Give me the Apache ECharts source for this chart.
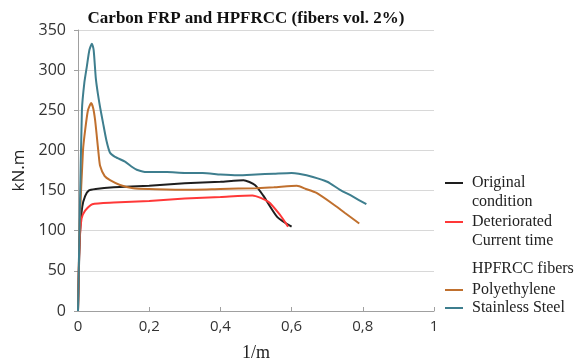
<!DOCTYPE html>
<html><head><meta charset="utf-8">
<script src="https://cdn.jsdelivr.net/npm/echarts@6/dist/echarts.min.js"></script>
<style>html,body{margin:0;padding:0;background:#fff}#c{width:582px;height:364px}</style>
</head><body><div id="c"></div>
<script>
const xTicks = [0, 0.2, 0.4, 0.6, 0.8, 1];
const yTicks = [0, 50, 100, 150, 200, 250, 300, 350];
const seriesNames = ['Original condition', 'Deteriorated Current time', 'Polyethylene', 'Stainless Steel'];
const legendLabels = ['Original\ncondition', 'Deteriorated\nCurrent time', 'Polyethylene', 'Stainless Steel'];
const legendHeader = 'HPFRCC fibers';
const original = [[0,0],[0.003,60],[0.006,100],[0.012,130],[0.02,143],[0.03,150],[0.05,152],[0.1,154],[0.2,156],[0.3,159],[0.4,161],[0.465,163],[0.497,157],[0.52,144],[0.56,117],[0.60,105]];
const deteriorated = [[0,0],[0.004,80],[0.01,115],[0.02,125],[0.04,133],[0.1,135],[0.2,137],[0.3,140],[0.4,142],[0.49,144],[0.535,136],[0.567,120],[0.59,105]];
const polyethylene = [[0,0],[0.005,110],[0.014,200],[0.02,225],[0.028,250],[0.037,259],[0.043,252],[0.048,238],[0.053,217],[0.058,195],[0.062,181],[0.075,168],[0.09,163],[0.118,157],[0.155,153],[0.2,152],[0.3,151],[0.4,152],[0.5,153],[0.55,154],[0.615,156],[0.64,152],[0.67,147],[0.72,132],[0.75,122],[0.79,109]];
const stainless = [[0,0],[0.005,120],[0.011,250],[0.018,285],[0.025,305],[0.032,325],[0.039,333],[0.044,325],[0.05,290],[0.056,270],[0.062,254],[0.07,235],[0.08,212],[0.09,197],[0.104,192],[0.132,186],[0.15,180],[0.165,176],[0.193,173],[0.25,173],[0.3,172],[0.35,172],[0.4,170],[0.45,169],[0.5,170],[0.55,171],[0.6,172],[0.62,171],[0.66,167],[0.70,161],[0.736,151],[0.77,143],[0.81,133]];
const colors = ['#1e1e1e', '#ff3838', '#c0702e', '#3e7e8e'];
const dataSets = [original, deteriorated, polyethylene, stainless];
const legendRows = [183, 222, 290, 308];

const chart = echarts.init(document.getElementById('c'));
const serif = '"Liberation Serif", "Times New Roman", serif';
const graphic = [];
legendRows.forEach((y, i) => {
  graphic.push({ type: 'line', shape: { x1: 445, y1: y, x2: 463, y2: y }, style: { stroke: colors[i], lineWidth: 2 } });
  graphic.push({ type: 'text', x: 472, y: y - 10, style: { text: legendLabels[i], font: '16px "Liberation Serif", serif', lineHeight: 19, fill: '#222' } });
});
graphic.push({ type: 'text', x: 472, y: 261, style: { text: legendHeader, font: '16px "Liberation Serif", serif', fill: '#222' } });

chart.setOption({
  animation: false,
  title: { text: 'Carbon FRP and HPFRCC (fibers vol. 2%)', left: 241, top: 5, textAlign: 'center',
    textStyle: { fontFamily: serif, fontSize: 17, fontWeight: 'bold', color: '#111' } },
  graphic: graphic,
  grid: { left: 78, right: 148, top: 30, bottom: 53, outerBoundsMode: 'none', containLabel: false },
  xAxis: {
    type: 'value', min: 0, max: 1, interval: 0.2,
    name: '1/m', nameLocation: 'middle', nameGap: 33,
    nameTextStyle: { fontFamily: serif, fontSize: 18, color: '#222' },
    axisLine: { lineStyle: { color: '#a0a0a0' } },
    axisTick: { show: true, inside: true, length: 4, lineStyle: { color: '#a0a0a0' } },
    splitLine: { show: false },
    axisLabel: { fontFamily: 'Open Sans', fontSize: 15, color: '#333', margin: 8,
      formatter: v => xTicks.includes(v) ? String(v).replace('.', ',') : '' }
  },
  yAxis: {
    type: 'value', min: 0, max: 350, interval: 50,
    name: 'kN.m', nameLocation: 'middle', nameGap: 49,
    nameTextStyle: { fontFamily: 'Open Sans', fontSize: 17, color: '#222' },
    axisLine: { show: true, lineStyle: { color: '#a0a0a0' } },
    axisTick: { show: true, length: 4, lineStyle: { color: '#a0a0a0' } },
    splitLine: { lineStyle: { color: '#d8d8d8' } },
    axisLabel: { fontFamily: 'Open Sans', fontSize: 16, color: '#333', margin: 12,
      formatter: v => yTicks.includes(v) ? String(v) : '' }
  },
  series: [3, 2, 0, 1].map(i => ({
    name: seriesNames[i], type: 'line', data: dataSets[i], showSymbol: false,
    smooth: 0.2, color: colors[i], lineStyle: { width: 2, color: colors[i] }, z: 2 + i
  }))
});
</script></body></html>
